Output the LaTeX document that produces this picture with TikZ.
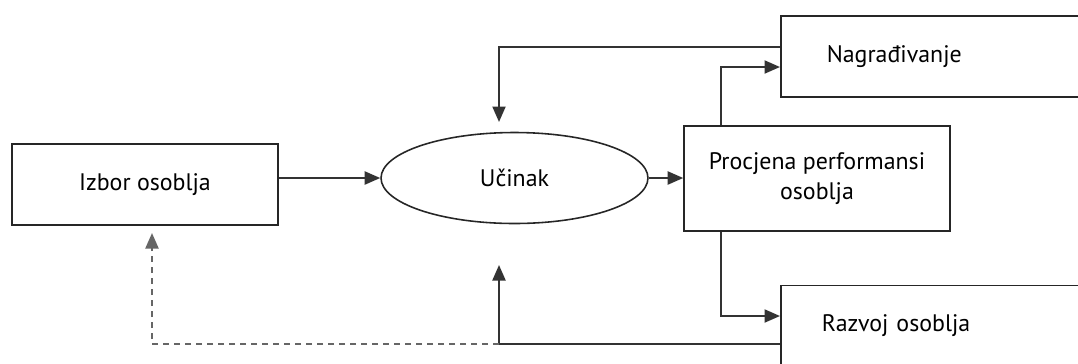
\documentclass[tikz,border=0pt]{standalone}
\usepackage{fontspec}
\setmainfont{PT Sans}
\usetikzlibrary{arrows.meta,shapes.geometric}

\tikzset{
  box/.style={draw=black!85, line width=0.9pt, rectangle, inner sep=0pt,
    font=\fontsize{13.6}{17}\selectfont},
  oval/.style={draw=black!85, line width=0.9pt, ellipse, inner sep=0pt,
    font=\fontsize{13.6}{17}\selectfont},
  arr/.style={draw=black!80, line width=1.2pt,
    -{Triangle[length=0.31cm,width=0.26cm]}},
  dasharr/.style={arr, draw=black!60, dash pattern=on 0.12cm off 0.1cm}
}

\begin{document}
\begin{tikzpicture}[x=0.02cm, y=-0.02cm]
  % page frame, pixel grid 1078 x 363
  \useasboundingbox (0,0) rectangle (1078,363);
  \clip (0,0) rectangle (1078,363);

  % nodes
  \node[box, minimum width=5.32cm, minimum height=1.62cm]
    (izbor) at (145,184.5) {Izbor osoblja};
  \node[oval, minimum width=5.34cm, minimum height=1.82cm]
    (ucinak) at (514.5,178) {Učinak};
  \node[box, minimum width=5.32cm, minimum height=2.1cm, align=center]
    (proc) at (817,178.5) {Procjena performansi\\osoblja};
  \node[box, anchor=west, minimum height=1.62cm, text width=5.34cm,
        inner xsep=0.92cm, align=left]
    (nag) at (780,56.5) {Nagrađivanje};
  \node[box, anchor=west, minimum height=1.62cm, text width=5.44cm,
        inner xsep=0.82cm, align=left]
    (raz) at (780,326) {Razvoj osoblja};

  % bend points of the connectors
  \coordinate (topline) at (499,47);
  \coordinate (toptip) at (499,122);
  \coordinate (upbend) at (721,67);
  \coordinate (downbend) at (721,316);
  \coordinate (botline) at (499,344);
  \coordinate (bottip) at (499,265);
  \coordinate (dashbend) at (152,344);
  \coordinate (dashtip) at (152,233);

  % main flow
  \draw[arr] (izbor.east |- ucinak.west) -- (ucinak.west);
  \draw[arr] (ucinak.east) -- (ucinak.east -| proc.west);
  \draw[arr] (proc.north -| upbend) -- (upbend) -- (nag.west |- upbend);
  \draw[arr] (proc.south -| downbend) -- (downbend) -- (raz.west |- downbend);

  % feedback loops
  \draw[arr] (nag.west |- topline) -- (topline) -- (toptip);
  \draw[arr] (raz.west |- botline) -- (botline) -- (bottip);
  \draw[dasharr] (botline) -- (dashbend) -- (dashtip);
\end{tikzpicture}
\end{document}
